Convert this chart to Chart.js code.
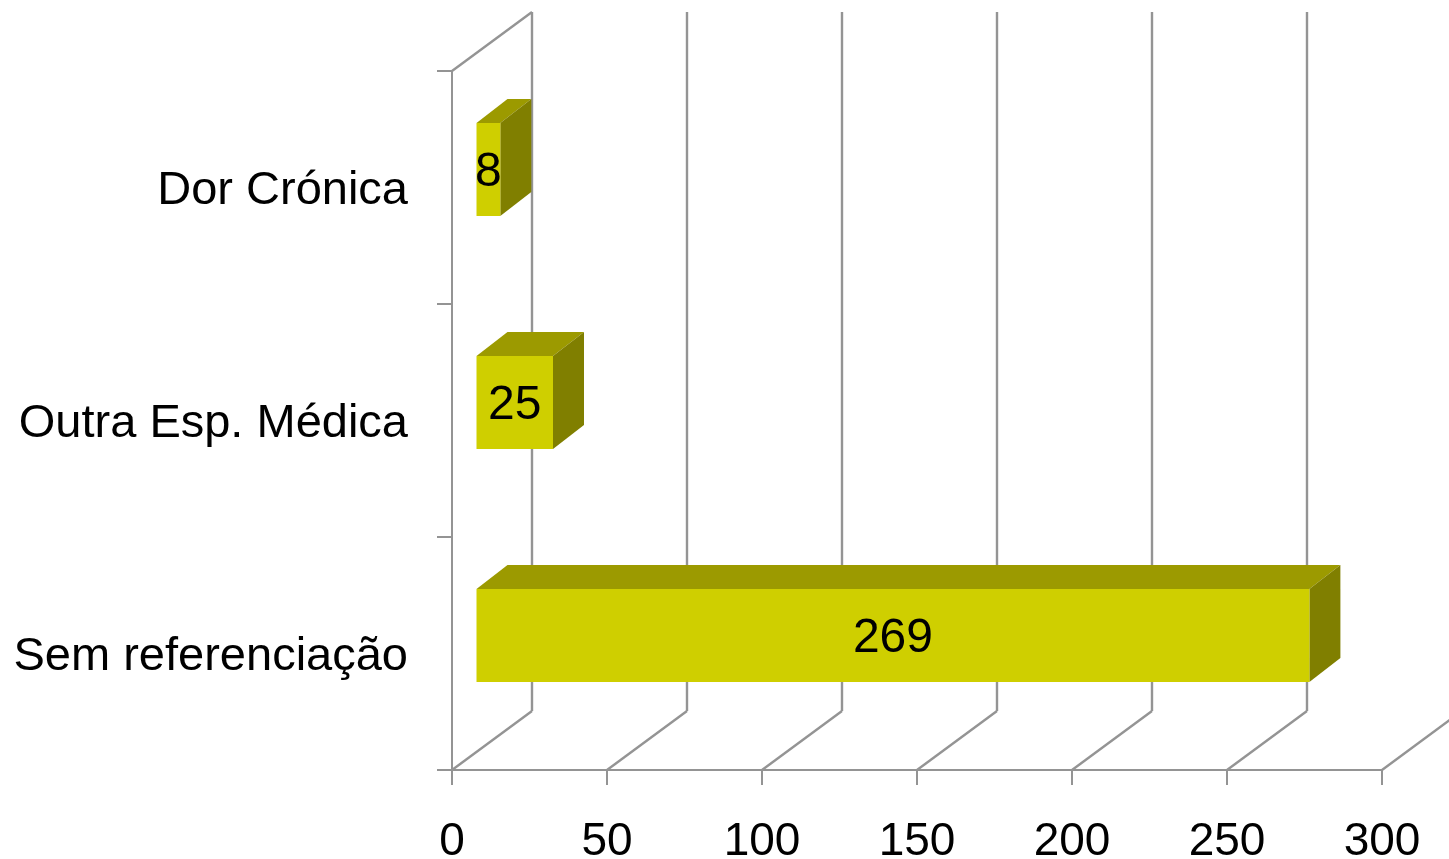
<!DOCTYPE html>
<html><head><meta charset="utf-8">
<style>html,body{margin:0;padding:0;background:#fff}canvas{display:block}</style>
<script src="https://cdn.jsdelivr.net/npm/chart.js@4"></script>
</head><body><canvas id="c" width="1449" height="859"></canvas>
<script>
const categories = ['Dor Crónica', 'Outra Esp. Médica', 'Sem referenciação'];
const seriesValues = [8, 25, 269];
const xTicks = [0, 50, 100, 150, 200, 250, 300];
const FONT = '"Liberation Sans", Arial, sans-serif';
const GRID = '#949494';
const wall = {dx: 80, dy: -59};
const barShift = {dx: 23.5, dy: -18};
const barDepth = {dx: 31, dy: -24};

const wallsPlugin = {
  id: 'walls',
  beforeDatasetsDraw(chart) {
    const {ctx, scales: {x}, chartArea: a} = chart;
    ctx.save();
    ctx.strokeStyle = GRID; ctx.lineWidth = 2.4;
    const line = (x0, y0, x1, y1) => { ctx.beginPath(); ctx.moveTo(x0, y0); ctx.lineTo(x1, y1); ctx.stroke(); };
    xTicks.forEach(v => {
      const px = x.getPixelForValue(v);
      line(px, a.bottom, px + wall.dx, a.bottom + wall.dy);
      if (v < xTicks[xTicks.length - 1]) line(px + wall.dx, a.bottom + wall.dy, px + wall.dx, a.top + wall.dy);
    });
    line(a.left, a.top, a.left + wall.dx, a.top + wall.dy);
    ctx.restore();
  },
  beforeDatasetDraw(chart, args) {
    const {ctx} = chart;
    const meta = chart.getDatasetMeta(args.index);
    ctx.save();
    ctx.translate(barShift.dx, barShift.dy);
    meta.data.forEach(el => {
      const p = el.getProps(['x', 'y', 'base', 'height']);
      const top = p.y - p.height / 2, bot = p.y + p.height / 2;
      ctx.fillStyle = '#9c9a00';
      ctx.beginPath(); ctx.moveTo(p.base, top); ctx.lineTo(p.base + barDepth.dx, top + barDepth.dy);
      ctx.lineTo(p.x + barDepth.dx, top + barDepth.dy); ctx.lineTo(p.x, top); ctx.closePath(); ctx.fill();
      ctx.fillStyle = '#807f00';
      ctx.beginPath(); ctx.moveTo(p.x, top); ctx.lineTo(p.x + barDepth.dx, top + barDepth.dy);
      ctx.lineTo(p.x + barDepth.dx, bot + barDepth.dy); ctx.lineTo(p.x, bot); ctx.closePath(); ctx.fill();
    });
  },
  afterDatasetDraw(chart, args) {
    const {ctx} = chart;
    const meta = chart.getDatasetMeta(args.index);
    ctx.fillStyle = '#000'; ctx.font = '48px ' + FONT;
    ctx.textAlign = 'center'; ctx.textBaseline = 'middle';
    meta.data.forEach((el, i) => {
      const p = el.getProps(['x', 'y', 'base']);
      ctx.fillText(String(seriesValues[i]), (p.x + p.base) / 2, p.y + 3);
    });
    ctx.restore();
  }
};

new Chart(document.getElementById('c'), {
  type: 'bar',
  data: {labels: categories, datasets: [{data: seriesValues, backgroundColor: '#cfcf00', borderWidth: 0, barPercentage: 0.4, categoryPercentage: 1}]},
  options: {
    indexAxis: 'y', responsive: false, animation: false, devicePixelRatio: 1,
    layout: {padding: {top: 71, right: 67, left: 0, bottom: 0}},
    plugins: {legend: {display: false}, tooltip: {enabled: false}, title: {display: false}},
    scales: {
      x: {
        min: 0, max: 300,
        afterBuildTicks: s => { s.ticks = xTicks.map(v => ({value: v})); },
        afterFit: s => { s.height = 89; s.paddingLeft = 0; s.paddingRight = 0; },
        grid: {drawOnChartArea: false, drawTicks: true, tickLength: 15, color: GRID, lineWidth: 2},
        border: {display: true, color: GRID, width: 2},
        ticks: {color: '#000', font: {family: FONT, size: 46}, padding: 30, maxRotation: 0, autoSkip: false}
      },
      y: {
        afterFit: s => { s.width = 452; },
        grid: {drawOnChartArea: false, drawTicks: true, tickLength: 15, color: GRID, lineWidth: 2},
        border: {display: true, color: GRID, width: 2},
        ticks: {color: '#000', font: {family: FONT, size: 47}, padding: 29, labelOffset: 4, autoSkip: false}
      }
    }
  },
  plugins: [wallsPlugin]
});
</script></body></html>
